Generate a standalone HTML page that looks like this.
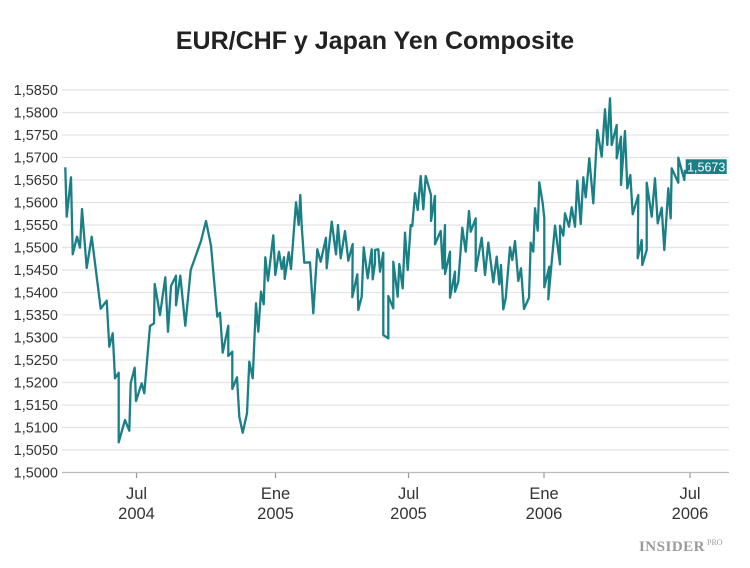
<!DOCTYPE html>
<html><head><meta charset="utf-8"><style>
body{margin:0;background:#fff;width:750px;height:563px;overflow:hidden}
svg{font-family:"Liberation Sans",sans-serif}
</style></head><body>
<svg width="750" height="563" viewBox="0 0 750 563">
<text x="375" y="49" text-anchor="middle" font-size="25" font-weight="bold" fill="#222">EUR/CHF y Japan Yen Composite</text>
<g stroke="#e3e3e3" stroke-width="1.3">
<line x1="62" x2="729" y1="90" y2="90"/><line x1="62" x2="729" y1="112.5" y2="112.5"/><line x1="62" x2="729" y1="135" y2="135"/><line x1="62" x2="729" y1="157.5" y2="157.5"/><line x1="62" x2="729" y1="180" y2="180"/><line x1="62" x2="729" y1="202.5" y2="202.5"/><line x1="62" x2="729" y1="225" y2="225"/><line x1="62" x2="729" y1="247.5" y2="247.5"/><line x1="62" x2="729" y1="270" y2="270"/><line x1="62" x2="729" y1="292.5" y2="292.5"/><line x1="62" x2="729" y1="315" y2="315"/><line x1="62" x2="729" y1="337.5" y2="337.5"/><line x1="62" x2="729" y1="360" y2="360"/><line x1="62" x2="729" y1="382.5" y2="382.5"/><line x1="62" x2="729" y1="405" y2="405"/><line x1="62" x2="729" y1="427.5" y2="427.5"/><line x1="62" x2="729" y1="450" y2="450"/>
</g>
<line x1="62" x2="729" y1="472.5" y2="472.5" stroke="#bbb" stroke-width="1.3"/>
<g stroke="#999" stroke-width="1.2"><line x1="136.5" x2="136.5" y1="473" y2="478"/><line x1="275.5" x2="275.5" y1="473" y2="478"/><line x1="408.5" x2="408.5" y1="473" y2="478"/><line x1="544" x2="544" y1="473" y2="478"/><line x1="690" x2="690" y1="473" y2="478"/></g>
<g font-size="14.5" fill="#333" text-anchor="end">
<text x="58" y="95">1,5850</text><text x="58" y="117.5">1,5800</text><text x="58" y="140">1,5750</text><text x="58" y="162.5">1,5700</text><text x="58" y="185">1,5650</text><text x="58" y="207.5">1,5600</text><text x="58" y="230">1,5550</text><text x="58" y="252.5">1,5500</text><text x="58" y="275">1,5450</text><text x="58" y="297.5">1,5400</text><text x="58" y="320">1,5350</text><text x="58" y="342.5">1,5300</text><text x="58" y="365">1,5250</text><text x="58" y="387.5">1,5200</text><text x="58" y="410">1,5150</text><text x="58" y="432.5">1,5100</text><text x="58" y="455">1,5050</text><text x="58" y="477.5">1,5000</text>
</g>
<g font-size="16.5" fill="#333" text-anchor="middle">
<text x="136.5" y="499">Jul</text><text x="136.5" y="519">2004</text>
<text x="275.5" y="499">Ene</text><text x="275.5" y="519">2005</text>
<text x="408.5" y="499">Jul</text><text x="408.5" y="519">2005</text>
<text x="544" y="499">Ene</text><text x="544" y="519">2006</text>
<text x="690" y="499">Jul</text><text x="690" y="519">2006</text>
</g>
<polyline fill="none" stroke="#1b7f86" stroke-width="2.3" stroke-linejoin="round" points="65.3,167.3 66.7,216.7 71,177.3 72.7,254.3 77,236.7 80,247.7 82,209 86.7,268 91.7,236.7 100.7,308.7 106.7,300.7 109.3,346.7 112.7,333.3 115,378.3 118.7,372.7 118.7,442.3 125,420 129.3,430.7 130.7,383.3 134.7,367.7 136,401 141.7,383.3 144.3,393.3 150,326 154,323.3 154.7,284 160,315 165.3,277.3 168,331.7 171,286 176,275.7 176,305.3 180.3,275.7 185.3,325.7 190.7,270 201,241 206,221 211,245.7 217.3,316.7 220,312.7 222.7,352.7 228.3,325.7 228.3,356 232.3,351.7 232.3,389 237,377.3 239.3,416.7 242.7,432.7 247,413.3 249.3,361.7 252.7,378.3 256,303.3 258.3,331.7 261,291.7 263.7,304.3 265.3,257.3 268,280.7 273.3,235.3 275.3,275 279,251.7 281.7,269 284,257.3 284.7,279 288.7,252.3 291,269 296,202.3 298.7,225 300.3,195 301.7,226 304.3,262.7 310,262.3 313.3,313.3 317.3,249.3 320.7,261.7 326,237.7 326.7,268.3 331.7,221.7 336,254.3 338,225 340.7,258.3 345,231 348.3,260.7 352.7,244 352.3,297.3 357.3,274.3 358.3,310 361.7,296.7 363.7,247.3 367.7,278.3 371.7,249.3 372.7,279.3 375,263.3 375,250 378.3,249.3 380,271.7 383.3,252.7 383.3,335 388.3,338.3 388.3,296 393.3,308.3 393.3,261.7 397.7,296.7 399.3,264 402.7,288.3 405,232.7 407.7,270 410.7,225 412.3,226 415,193.3 417.7,210 420.7,176 423.3,209.3 425.7,176 431,195 431,221 435,196 435,244.3 440.7,231 442.7,268.3 445,225 445,274 450,251.7 450,297.7 455,271.7 455,291.7 458.3,281.7 462.3,227.7 465.7,251.7 469,211 470.7,231.7 475.7,218.3 475.7,271 481.7,237.7 485,275 488.3,242.7 493.3,282.3 496.7,256.7 499.3,284.3 501,265 503.3,309.3 505.7,298.3 510,247.3 512.3,260 515,241 518.3,281 521,268.3 524,309 529,297.7 530.7,242.7 533.3,251.7 535,208.3 537.7,230.7 539.3,182.3 542.7,203.3 544.3,218.3 544.3,287.3 549.3,266.7 548.3,299.3 555,225.7 560,264.3 560,225.7 563.3,235.7 565,213.3 569,226.7 571.7,207.3 575,226.7 577.3,180.7 580.7,224 583.3,177.3 585.7,197.3 589.3,158.3 593.3,203.3 597.3,130 601.7,156.7 605,109.3 607.3,145 610,98.3 611.7,145 616.7,125 616.7,158.3 621,136.7 621,185 625,131 627.3,188.3 630.3,175 632.7,214.3 638.3,195 637.7,258.3 641.7,240 642.3,265 646.7,250 646.7,182.7 651.7,216.7 655,178.3 657.7,223.3 661.7,207.7 664.3,250 668.3,188.3 670.7,218.3 671.7,168.3 678.3,182.7 678.3,157.7 684.3,180 685,169.8"/>
<rect x="685.7" y="159.3" width="41" height="14.7" fill="#1b7f86"/>
<text x="706.2" y="171.3" text-anchor="middle" font-size="12.5" fill="#fff">1,5673</text>
<text x="705" y="551" text-anchor="end" font-family="Liberation Serif,serif" font-weight="bold" font-size="15" fill="#9a9a9a" letter-spacing="0.5">INSIDER</text>
<text x="707" y="545" font-family="Liberation Serif,serif" font-size="8" fill="#9a9a9a">PRO</text>
</svg>
</body></html>
